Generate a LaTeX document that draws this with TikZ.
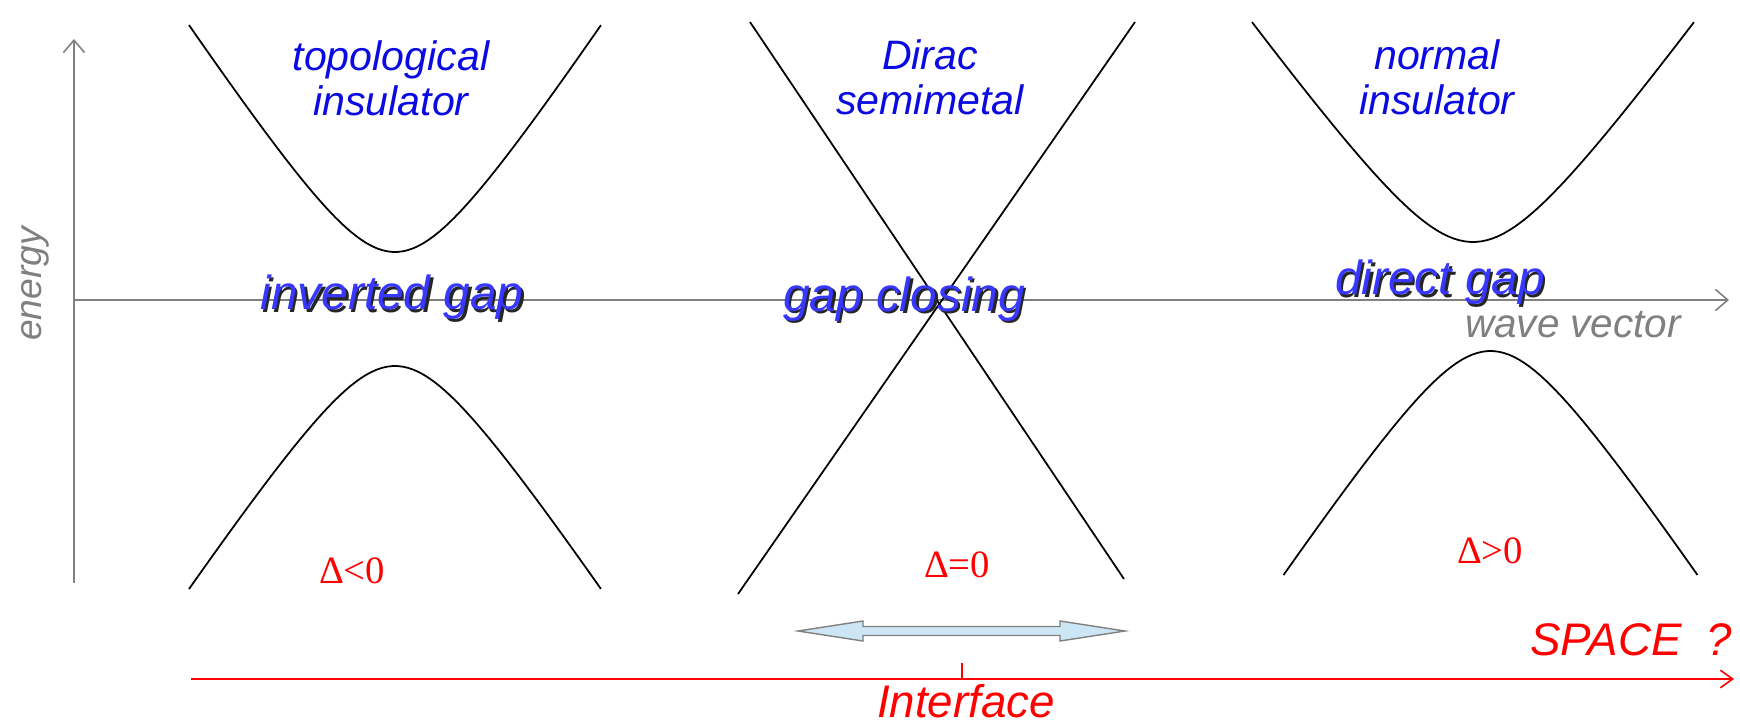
\documentclass[tikz,border=0pt]{standalone}
\usepackage{fontspec}
\setmainfont{Liberation Sans}
\newfontfamily\deltafont{Liberation Serif}
\usetikzlibrary{positioning,arrows.meta}

\definecolor{axisgray}{RGB}{128,128,128}
\definecolor{phaseblue}{RGB}{10,10,225}
\definecolor{gapblue}{RGB}{55,55,255}
\definecolor{movefill}{RGB}{205,230,245}

\begin{document}
\begin{tikzpicture}[
  axis/.style={axisgray, line width=0.45pt, -{Straight Barb[length=3.5pt,width=6pt]}},
  band/.style={black, line width=0.5pt},
  phase/.style={phaseblue, font=\fontsize{11.7}{12.8}\selectfont\itshape, align=center},
  gaplabel/.style={gapblue, font=\fontsize{13.6}{15}\selectfont\itshape, anchor=base},
  gapshadow/.style={black!85, font=\fontsize{13.6}{15}\selectfont\itshape, anchor=base},
  axislabel/.style={axisgray, font=\fontsize{11.5}{13}\selectfont\itshape},
  deltalabel/.style={red, font=\fontsize{11}{13}\selectfont\deltafont, anchor=base},
  spacelabel/.style={red, font=\fontsize{13}{15}\selectfont\itshape, anchor=base, inner sep=0pt}
]
\path[use as bounding box, fill=white] (0,0) rectangle (17.4,7.24);

% axes
\coordinate (origin) at (0.74,4.24);
\coordinate (etop) at (0.74,6.85);
\coordinate (ebot) at (0.74,1.41);
\coordinate (kend) at (17.29,4.24);
\draw[axis] (ebot) -- (etop);
\draw[axis] (origin) -- (kend);
\node[axislabel, rotate=90, font=\fontsize{10.6}{12}\selectfont\itshape] (energy) at (0.35,4.40) {energy};
\node[axislabel, anchor=base] (wave) at (15.73,3.86) {wave vector};

% topological insulator
\draw[band] plot[domain=-2.06:2.06, samples=80] ({3.95+\x},{4.72+sqrt(1+(1.511*\x)^2)-1});
\draw[band] plot[domain=-2.06:2.06, samples=80] ({3.95+\x},{3.58-sqrt(1+(1.491*\x)^2)+1});

% Dirac semimetal
\coordinate (dtl) at (7.50,7.02);
\coordinate (dbr) at (11.24,1.45);
\coordinate (dtr) at (11.35,7.02);
\coordinate (dbl) at (7.38,1.30);
\draw[band] (dtl) -- (dbr);
\draw[band] (dtr) -- (dbl);

% normal insulator
\draw[band] plot[domain=-2.21:2.21, samples=80] ({14.73+\x},{4.82+sqrt(1+(1.375*\x)^2)-1});
\draw[band] plot[domain=-2.07:2.07, samples=80] ({14.905+\x},{3.73-sqrt(1+(1.489*\x)^2)+1});

% phase names
\node[phase] (topo) at (3.91,6.46) {topological\\insulator};
\node[phase] (dirac) at (9.30,6.47) {Dirac\\semimetal};
\node[phase] (normal) at (14.37,6.47) {normal\\insulator};

% gap labels
\node[gapshadow] (invshadow) at (3.945,4.115) {inverted gap};
\node[gaplabel] (inverted) at ([xshift=-0.025cm,yshift=0.025cm]invshadow.base) {inverted gap};
\node[gapshadow] (closshadow) at (9.065,4.105) {gap closing};
\node[gaplabel] (closing) at ([xshift=-0.025cm,yshift=0.025cm]closshadow.base) {gap closing};
\node[gapshadow] (dirshadow) at (14.425,4.265) {direct gap};
\node[gaplabel] (direct) at ([xshift=-0.025cm,yshift=0.025cm]dirshadow.base) {direct gap};

% sign of the gap
\node[deltalabel] (dneg) at (3.52,1.41) {Δ<0};
\node[deltalabel] (dzero) at (9.57,1.47) {Δ=0};
\node[deltalabel] (dpos) at (14.90,1.61) {Δ>0};

% moving the interface
\draw[axisgray, fill=movefill, line width=0.4pt]
  (7.98,0.93) -- (8.63,1.03) -- (8.63,0.975) -- (10.60,0.975) -- (10.60,1.03)
  -- (11.25,0.93) -- (10.60,0.83) -- (10.60,0.885) -- (8.63,0.885) -- (8.63,0.83) -- cycle;

% space axis
\coordinate (sstart) at (1.91,0.45);
\coordinate (send) at (17.34,0.45);
\coordinate (tick) at (9.62,0.45);
\coordinate (ticktop) at (9.62,0.61);
\draw[red, line width=0.45pt, -{Straight Barb[length=3.5pt,width=5pt]}] (sstart) -- (send);
\draw[red, line width=0.45pt] (tick) -- (ticktop);
\node[spacelabel, anchor=base east] (space) at (17.33,0.69) {SPACE\ \ ?};
\node[spacelabel] (interface) at (9.66,0.07) {Interface};
\end{tikzpicture}
\end{document}
